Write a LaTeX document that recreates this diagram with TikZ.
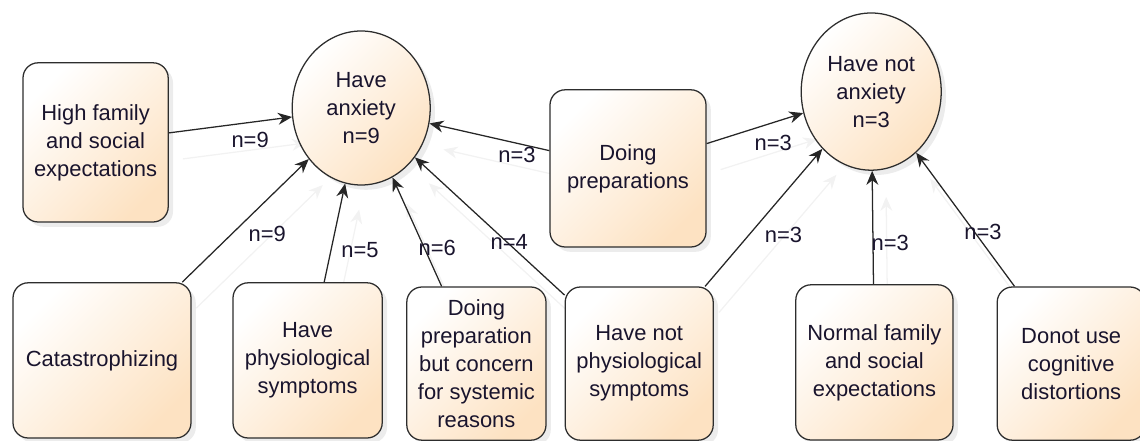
\documentclass[tikz,border=0pt]{standalone}
\usepackage{fontspec}
\setmainfont{Liberation Sans}
\usepackage{tikz}
\usetikzlibrary{arrows.meta, shapes.geometric, shadows, backgrounds}

\definecolor{boxorange}{RGB}{253,226,194}
\definecolor{edgegray}{RGB}{45,45,45}
\definecolor{txtcol}{RGB}{25,20,45}

\tikzset{
	every node/.style={font=\fontsize{15.6}{19.9}\selectfont, text=txtcol},
	box/.style={draw=edgegray, line width=0.9pt, rounded corners=0.38cm, align=center, inner sep=0pt,
		top color=white, bottom color=boxorange, shading angle=45,
		drop shadow={shadow xshift=0.12cm, shadow yshift=-0.12cm, opacity=0.15}},
	oval/.style={ellipse, draw=edgegray, line width=0.9pt, align=center, inner sep=0pt,
		top color=white, bottom color=boxorange, shading angle=45,
		drop shadow={shadow xshift=0.12cm, shadow yshift=-0.12cm, opacity=0.15}},
	link/.style={draw=black!85, line width=0.9pt, -{Stealth[length=10pt, width=8.5pt]}},
	ghost/.style={draw=black!5, line width=0.9pt, -{Stealth[length=10pt, width=8.5pt]},
		transform canvas={shift={(0.35,-0.65)}}},
	lbl/.style={inner sep=0pt}
}

\begin{document}
\begin{tikzpicture}
	\useasboundingbox (0,0) rectangle (28.5,11);
	
	% results
	\node[oval, minimum width=3.45cm, minimum height=3.85cm] (anx) at (9.03,8.30) {Have\\anxiety\\n=9};
	\node[oval, minimum width=3.5cm, minimum height=3.93cm] (noanx) at (21.78,8.71) {Have not\\anxiety\\n=3};
	
	% factors
	\node[box, minimum width=3.63cm, minimum height=3.98cm] (high) at (2.39,7.44) {High family\\and social\\expectations};
	\node[box, minimum width=3.9cm, minimum height=3.93cm] (prep) at (15.7,6.79) {Doing\\preparations};
	\node[box, minimum width=4.45cm, minimum height=3.88cm] (cata) at (2.55,1.99) {Catastrophizing};
	\node[box, minimum width=3.73cm, minimum height=3.88cm] (phys) at (7.69,1.99) {Have\\physiological\\symptoms};
	\node[box, minimum width=3.48cm, minimum height=3.83cm] (concern) at (11.91,1.91) {Doing\\preparation\\but concern\\for systemic\\reasons};
	\node[box, minimum width=3.7cm, minimum height=3.83cm] (notphys) at (15.98,1.91) {Have not\\physiological\\symptoms};
	\node[box, minimum width=3.93cm, minimum height=3.88cm] (normal) at (21.86,1.94) {Normal family\\and social\\expectations};
	\node[box, minimum width=3.7cm, minimum height=3.83cm] (donot) at (26.78,1.91) {Donot use\\cognitive\\distortions};
	
	% faint copies of the arrows
	\begin{pgfonlayer}{background}
		\foreach \a/\b in {high/anx, prep/anx, prep/noanx, cata/anx, phys/anx, concern/anx, notphys/anx, notphys/noanx, normal/noanx, donot/noanx}
			\draw[ghost] (\a) -- (\b);
	\end{pgfonlayer}
	
	% arrows
	\draw[link] (high) -- (anx) node[lbl, pos=0.66, yshift=-0.45cm] {n=9};
	\draw[link] (prep) -- (anx) node[lbl, pos=0.27, yshift=-0.3cm] {n=3};
	\draw[link] (prep) -- (noanx) node[lbl, pos=0.69, yshift=-0.52cm] {n=3};
	\draw[link] (cata) -- (anx) node[lbl, pos=0.39, xshift=0.89cm] {n=9};
	\draw[link] (phys) -- (anx) node[lbl, pos=0.33, xshift=0.72cm] {n=5};
	\draw[link] (concern) -- (anx) node[lbl, pos=0.35, xshift=0.32cm] {n=6};
	\draw[link] (notphys) -- (anx) node[lbl, pos=0.37, yshift=0.05cm] {n=4};
	\draw[link] (notphys) -- (noanx) node[lbl, pos=0.375, xshift=0.86cm] {n=3};
	\draw[link] (normal) -- (noanx) node[lbl, pos=0.36, xshift=0.43cm] {n=3};
	\draw[link] (donot) -- (noanx) node[lbl, pos=0.41, xshift=0.22cm] {n=3};
\end{tikzpicture}
\end{document}
